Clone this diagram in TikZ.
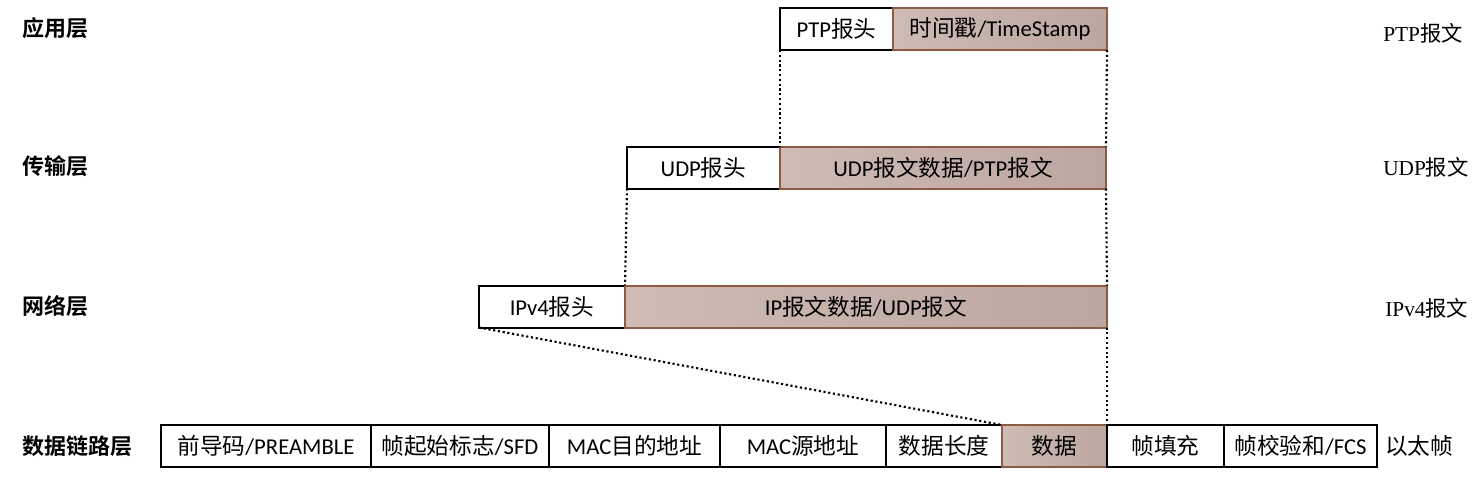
\documentclass[tikz,border=0pt]{standalone}
\usepackage{fontspec}
\setmainfont{Carlito}
\newfontfamily\cjk[BoldFont={Noto Sans CJK SC Bold}]{Noto Sans CJK SC}
\newfontfamily\tms{Liberation Serif}
\newcommand{\zh}[1]{{\cjk #1}}
\usetikzlibrary{positioning}
\definecolor{pdulight}{HTML}{CDBBB4}
\definecolor{pdudark}{HTML}{BCA7A0}
\definecolor{pduedge}{HTML}{8C5A46}

\begin{document}
\begin{tikzpicture}[x=0.75pt,y=-0.75pt,
  field/.style={draw, line width=1.5pt, outer sep=0pt, inner sep=0pt,
    minimum height=31.5pt, font=\fontsize{17}{20}\selectfont},
  payload/.style={field, draw=pduedge, left color=pdulight, right color=pdudark},
  layer/.style={anchor=west, inner sep=0pt, font=\fontsize{16.5}{19}\selectfont\cjk\bfseries},
  pduname/.style={anchor=west, inner sep=0pt, font=\fontsize{16}{19}\selectfont\tms},
  link/.style={dotted, line width=1.6pt}]
  \useasboundingbox (0,0) rectangle (1477,476);

  % layer names
  \node[layer] (app) at (22,28) {应用层};
  \node[layer] (trans) at (22,166) {传输层};
  \node[layer] (net) at (22,306) {网络层};
  \node[layer] (dll) at (22,446) {数据链路层};

  % application layer
  \node[field, minimum width=84.75pt] (ptph) at (836.5,29) {PTP\zh{报头}};
  \node[payload, minimum width=160.5pt] (ts) at (1000,29) {\zh{时间戳}/TimeStamp};

  % transport layer
  \node[field, minimum width=114.75pt] (udph) at (703.5,167.5) {UDP\zh{报头}};
  \node[payload, minimum width=244.5pt] (udpd) at (943,167.5) {UDP\zh{报文数据}/PTP\zh{报文}};

  % network layer
  \node[field, minimum width=109.5pt] (iph) at (552,306.5) {IPv4\zh{报头}};
  \node[payload, minimum width=361.5pt] (ipd) at (866,306.5) {IP\zh{报文数据}/UDP\zh{报文}};

  % ethernet frame
  \node[field, minimum width=157.5pt] (pre) at (266,446) {\zh{前导码}/PREAMBLE};
  \node[field, minimum width=133.5pt] (sfd) at (460,446) {\zh{帧起始标志}/SFD};
  \node[field, minimum width=128.25pt] (dst) at (634.5,446) {MAC\zh{目的地址}};
  \node[field, minimum width=124.5pt] (src) at (803,446) {MAC\zh{源地址}};
  \node[field, minimum width=87pt] (len) at (944,446) {\zh{数据长度}};
  \node[payload, minimum width=78.75pt] (data) at (1054.5,446) {\zh{数据}};
  \node[field, minimum width=87.75pt] (pad) at (1165.5,446) {\zh{帧填充}};
  \node[field, minimum width=114.75pt] (fcs) at (1300.5,446) {\zh{帧校验和}/FCS};

  % PDU names
  \node[pduname] (ptpmsg) at (1383,33) {PTP\zh{报文}};
  \node[pduname] (udpmsg) at (1383,167) {UDP\zh{报文}};
  \node[pduname] (ipmsg) at (1385,308) {IPv4\zh{报文}};
  \node[anchor=west, inner sep=0pt, font=\fontsize{17}{20}\selectfont\cjk] (frame) at (1385,446) {以太帧};

  % encapsulation
  \draw[link] (ptph.south west) -- (udpd.north west);
  \draw[link] (ts.south east) -- (udpd.north east);
  \draw[link] (udph.south west) -- (ipd.north west);
  \draw[link] (udpd.south east) -- (ipd.north east);
  \draw[link] (iph.south west) -- (data.north west);
  \draw[link] (ipd.south east) -- (data.north east);
\end{tikzpicture}
\end{document}
